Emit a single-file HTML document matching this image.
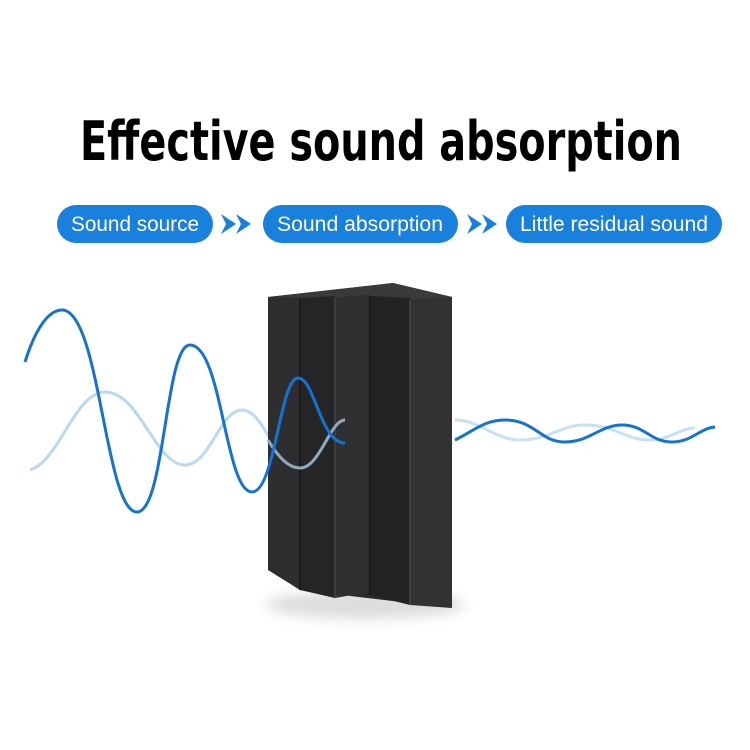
<!DOCTYPE html>
<html><head><meta charset="utf-8"><style>
html,body{margin:0;padding:0;background:#fff;}
svg{display:block;}
</style></head><body>
<svg width="750" height="750" viewBox="0 0 750 750" xmlns="http://www.w3.org/2000/svg">
<defs><filter id="b" x="-20%" y="-50%" width="140%" height="200%"><feGaussianBlur stdDeviation="6"/></filter></defs>
<rect width="750" height="750" fill="#fff"/>
<text x="80" y="160" font-family="DejaVu Sans, Liberation Sans, sans-serif" font-weight="bold" font-size="54" textLength="602" lengthAdjust="spacingAndGlyphs" fill="#000">Effective sound absorption</text>

<g font-family="Liberation Sans, sans-serif" font-size="21" fill="#fff">
<rect x="57" y="205" width="156" height="38" rx="19" fill="#1a80dd"/>
<text x="135" y="231" text-anchor="middle" textLength="128" lengthAdjust="spacingAndGlyphs">Sound source</text>
<rect x="263" y="205" width="195" height="38" rx="19" fill="#1a80dd"/>
<text x="360" y="231" text-anchor="middle" textLength="166" lengthAdjust="spacingAndGlyphs">Sound absorption</text>
<rect x="506" y="205" width="216" height="38" rx="19" fill="#1a80dd"/>
<text x="614" y="231" text-anchor="middle" textLength="188" lengthAdjust="spacingAndGlyphs">Little residual sound</text>
</g>
<g fill="#1a80dd">
<polygon points="221,214 236,224 221,234 226,224"/><polygon points="236,214 251,224 236,234 241,224"/>
<polygon points="467,214 482,224 467,234 472,224"/><polygon points="482,214 497,224 482,234 487,224"/>
</g>

<path d="M30,470 C60,460 75,392 105,392 C140,392 155,465 185,465 C210,465 220,410 242,410 C265,410 275,468 300,468 C320,468 330,420 345,420" fill="none" stroke="#b9d8f2" stroke-width="3"/>

<ellipse cx="365" cy="605" rx="100" ry="14" fill="#cfcfcf" filter="url(#b)" opacity="0.7"/>
<polygon points="268,297 393,283 452,297 452,608 300,590 268,570" fill="#2b2b2d"/>
<polygon points="268,297 393,283 452,297 410,300 370,296 335,298 300,298" fill="#3a3a3c"/>
<polygon points="268,297 300,298 300,590 268,568" fill="#2e2e30"/>
<polygon points="300,298 335,296 335,598 300,590" fill="#252527"/>
<polygon points="335,298 370,294 370,592 335,598" fill="#303032"/>
<polygon points="370,296 410,298 410,605 370,595" fill="#232325"/>
<polygon points="410,300 452,297 452,608 410,605" fill="#323234"/>
<line x1="300" y1="298" x2="300" y2="590" stroke="#1a1a1b" stroke-width="2"/>
<line x1="335" y1="298" x2="335" y2="598" stroke="#444" stroke-width="1.5"/>
<line x1="370" y1="296" x2="370" y2="595" stroke="#1a1a1b" stroke-width="2"/>
<line x1="410" y1="300" x2="410" y2="605" stroke="#454547" stroke-width="1.5"/>

<path d="M268,440 C280,460 290,468 300,468 C320,468 330,420 345,420" fill="none" stroke="#8fa9bf" stroke-width="3"/>

<path d="M25,362 C35,330 48,310 62,310 C100,310 105,512 137,512 C165,512 165,345 190,345 C222,345 225,492 252,492 C275,492 280,378 298,378 C315,378 320,443 345,443" fill="none" stroke="#1573cf" stroke-width="3"/>
<path d="M455,420 C480,420 495,440 520,440 C550,440 560,425 585,425 C615,425 625,440 650,440 C670,440 680,428 695,428" fill="none" stroke="#c7e0f5" stroke-width="3"/>
<path d="M455,440 C475,430 485,420 505,420 C535,420 540,442 565,442 C590,442 600,425 622,425 C645,425 650,442 672,442 C692,442 700,428 715,427" fill="none" stroke="#1573cf" stroke-width="3"/>
</svg>
</body></html>
